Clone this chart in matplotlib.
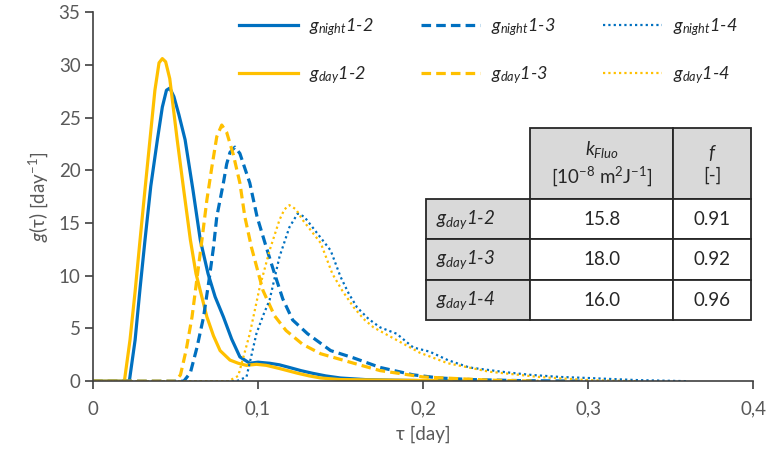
import matplotlib
matplotlib.use("Agg")
import matplotlib.pyplot as plt
from matplotlib.ticker import FuncFormatter

plt.rcParams['font.family'] = ['Lato', 'DejaVu Sans']
plt.rcParams['mathtext.fontset'] = 'custom'
plt.rcParams['mathtext.rm'] = 'Lato'
plt.rcParams['mathtext.it'] = 'Lato:italic'

BLUE = '#0070C0'
GOLD = '#FFC000'

# g_night 1-2
x_n12 = [0, 0.022, 0.0255, 0.0285, 0.0315, 0.035, 0.039, 0.042, 0.0445, 0.0465, 0.049, 0.052, 0.0558,
         0.0606, 0.065, 0.0697, 0.074, 0.079, 0.084, 0.089, 0.095, 0.100, 0.107, 0.113, 0.119, 0.126,
         0.133, 0.141, 0.150, 0.165, 0.180, 0.200, 0.22]
y_n12 = [0, 0, 3.9, 8.8, 13.4, 18.5, 22.9, 26.0, 27.6, 27.8, 27.0, 25.3, 22.9,
         18.1, 13.4, 10.2, 8.0, 6.1, 4.0, 2.3, 1.7, 1.8, 1.7, 1.55, 1.3, 1.0,
         0.75, 0.5, 0.3, 0.15, 0.1, 0.05, 0]

# g_night 1-3
x_n13 = [0, 0.055, 0.059, 0.063, 0.067, 0.0705, 0.073, 0.075, 0.079, 0.081, 0.083, 0.086, 0.089,
         0.092, 0.095, 0.0994, 0.105, 0.110, 0.115, 0.121, 0.130, 0.144, 0.158, 0.174, 0.194, 0.21,
         0.23, 0.26, 0.30]
y_n13 = [0, 0, 0.8, 3.2, 6.1, 9.8, 12.7, 15.6, 18.8, 20.6, 21.7, 22.2, 21.6,
         20.2, 18.8, 15.6, 12.7, 10.2, 7.8, 5.8, 4.5, 2.9, 2.2, 1.3, 0.6, 0.3,
         0.15, 0.05, 0]

# g_night 1-4
x_n14 = [0, 0.087, 0.093, 0.099, 0.103, 0.107, 0.113, 0.119, 0.124, 0.128, 0.133, 0.139, 0.144,
         0.150, 0.155, 0.160, 0.167, 0.174, 0.184, 0.194, 0.204, 0.215, 0.228, 0.25, 0.265,
         0.283, 0.30, 0.33, 0.36]
y_n14 = [0, 0, 0.4, 4.5, 6.2, 7.7, 11.8, 14.6, 15.9, 15.6, 14.6, 13.4, 12.4,
         9.9, 8.3, 7.0, 5.9, 5.1, 4.5, 3.2, 2.8, 2.0, 1.3, 0.85, 0.6,
         0.4, 0.3, 0.1, 0]

# g_day 1-2
x_d12 = [0, 0.019, 0.0224, 0.0255, 0.0285, 0.0315, 0.0345, 0.0375, 0.040, 0.042, 0.044, 0.0465,
         0.051, 0.055, 0.059, 0.0624, 0.069, 0.073, 0.077, 0.083, 0.088, 0.093, 0.099, 0.105,
         0.113, 0.124, 0.131, 0.138, 0.150, 0.18, 0.24]
y_d12 = [0, 0, 3.9, 8.5, 13.4, 18.2, 22.9, 27.6, 30.2, 30.6, 30.3, 28.7,
         22.9, 18.1, 13.4, 10.2, 6.1, 4.3, 2.9, 2.0, 1.7, 1.5, 1.6, 1.5,
         1.2, 0.75, 0.5, 0.3, 0.15, 0.1, 0]

# g_day 1-3
x_d13 = [0, 0.050, 0.053, 0.0565, 0.060, 0.066, 0.069, 0.072, 0.075, 0.078, 0.081, 0.085, 0.089,
         0.092, 0.096, 0.103, 0.110, 0.117, 0.127, 0.138, 0.158, 0.174, 0.200, 0.24, 0.27]
y_d13 = [0, 0, 0.6, 3.0, 6.1, 13.4, 17.2, 20.3, 23.2, 24.3, 23.6, 21.5, 18.8,
         15.6, 12.7, 8.6, 6.2, 4.8, 3.5, 2.6, 1.7, 1.0, 0.4, 0.1, 0]

# g_day 1-4
x_d14 = [0, 0.082, 0.088, 0.095, 0.101, 0.107, 0.113, 0.116, 0.119, 0.123, 0.127, 0.132, 0.138,
         0.145, 0.151, 0.158, 0.164, 0.170, 0.184, 0.198, 0.215, 0.24, 0.27, 0.30, 0.33]
y_d14 = [0, 0, 0.5, 4.5, 8.9, 12.4, 15.3, 16.3, 16.7, 16.3, 15.3, 14.3, 13.1,
         10.2, 8.6, 7.0, 5.9, 5.1, 3.9, 2.7, 1.7, 0.9, 0.4, 0.1, 0]

col_labels = ['', '$k_{Fluo}$\n[10$^{-8}$ m$^{2}$J$^{-1}$]', '$f$\n[-]']
row_labels = ['$g_{day}$1-2', '$g_{day}$1-3', '$g_{day}$1-4']
k_fluo = ['15.8', '18.0', '16.0']
f_vals = ['0.91', '0.92', '0.96']

fig = plt.figure(figsize=(7.72, 4.70), dpi=100)
ax = fig.add_axes([0.1205, 0.189, 0.855, 0.785])

ax.plot(x_n12, y_n12, color=BLUE, lw=2.3, label='$g_{night}$1-2')
ax.plot(x_d12, y_d12, color=GOLD, lw=2.3, label='$g_{day}$1-2')
ax.plot(x_n13, y_n13, color=BLUE, lw=2.3, ls=(0, (3, 1.6)), label='$g_{night}$1-3')
ax.plot(x_d13, y_d13, color=GOLD, lw=2.3, ls=(0, (3, 1.6)), label='$g_{day}$1-3')
ax.plot(x_n14, y_n14, color=BLUE, lw=1.6, ls=(0, (1, 1.4)), label='$g_{night}$1-4')
ax.plot(x_d14, y_d14, color=GOLD, lw=1.6, ls=(0, (1, 1.4)), label='$g_{day}$1-4')

ax.set_xlim(0, 0.4)
ax.set_ylim(0, 35)
ax.set_xticks([0, 0.1, 0.2, 0.3, 0.4])
ax.set_yticks(range(0, 36, 5))
ax.xaxis.set_major_formatter(FuncFormatter(lambda v, p: ('%g' % round(v, 2)).replace('.', ',')))
for s in ['top', 'right']:
    ax.spines[s].set_visible(False)
for s in ['left', 'bottom']:
    ax.spines[s].set_color('#404040')
    ax.spines[s].set_linewidth(1.2)
ax.tick_params(direction='out', length=6, width=1.2, color='#404040', labelcolor='#595959',
               labelsize=13.5)
ax.tick_params(axis='x', pad=8)
ax.tick_params(axis='y', pad=3)
ax.set_xlabel('τ [day]', fontsize=13.5, color='#595959', labelpad=6)
ax.set_ylabel('$g$(τ) [day$^{-1}$]', fontsize=13.5, color='#595959', labelpad=6)

leg = ax.legend(loc='upper left', bbox_to_anchor=(0.196, 1.032), ncol=3, frameon=False,
                handlelength=3.3, columnspacing=2.6, labelspacing=1.45,
                handletextpad=0.6, prop={'style': 'italic', 'size': 13})
for t in leg.get_texts():
    t.set_color('#262626')

cell_text = [col_labels]
for i in range(3):
    cell_text.append([row_labels[i], k_fluo[i], f_vals[i]])
tbl = ax.table(cellText=cell_text, cellLoc='center', bbox=[0.5045, 0.165, 0.4925, 0.521], zorder=5)
tbl.auto_set_font_size(False)
widths = [104, 143, 78]
for (r, c), cell in tbl.get_celld().items():
    cell.set_width(widths[c])
    cell.set_height(71 if r == 0 else 40.5)
    cell.set_edgecolor('#262626')
    cell.set_linewidth(1.3)
    cell.get_text().set_fontsize(13.5)
    cell.get_text().set_color('#262626')
    if r == 0 or c == 0:
        cell.set_facecolor('#D9D9D9')
    if c == 0 and r > 0:
        cell.get_text().set_ha('left')
        cell.get_text().set_fontstyle('italic')
        cell.PAD = 0.1
tbl[0, 0].set_facecolor('none')
tbl[0, 0].visible_edges = ''

fig.savefig('out.png', dpi=100)
